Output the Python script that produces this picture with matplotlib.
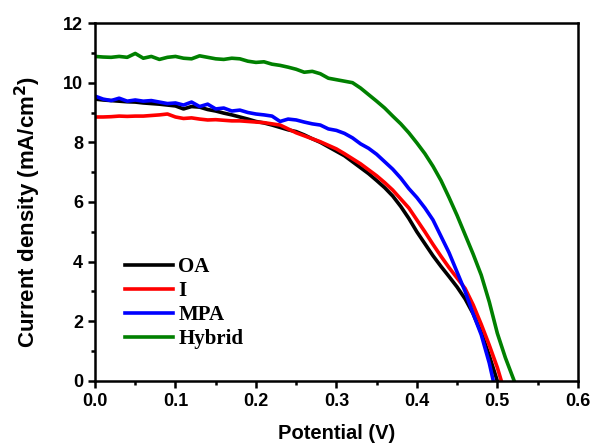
"""J-V curves for OA / I / MPA / Hybrid ligand devices."""
import numpy as np
import matplotlib
matplotlib.use("Agg")
import matplotlib.pyplot as plt
from matplotlib.ticker import MultipleLocator, FormatStrFormatter

# ---- Data ----
V_OA = [0.00, 0.01, 0.02, 0.03, 0.04, 0.05, 0.06, 0.07, 0.08, 0.09, 0.10, 0.11, 0.12, 0.13, 0.14,
        0.15, 0.16, 0.17, 0.18, 0.19, 0.20, 0.21, 0.22, 0.23, 0.24, 0.25, 0.26, 0.27, 0.28, 0.29,
        0.30, 0.31, 0.32, 0.33, 0.34, 0.35, 0.36, 0.37, 0.38, 0.39, 0.40, 0.41, 0.42, 0.43, 0.44,
        0.45, 0.46, 0.47, 0.48, 0.49, 0.50]
J_OA = [9.45, 9.42, 9.40, 9.38, 9.36, 9.35, 9.32, 9.30, 9.28, 9.25, 9.22, 9.12, 9.20, 9.18, 9.10,
        9.05, 8.98, 8.92, 8.85, 8.78, 8.70, 8.65, 8.58, 8.50, 8.42, 8.36, 8.25, 8.12, 8.00, 7.85,
        7.70, 7.55, 7.35, 7.15, 6.95, 6.72, 6.48, 6.20, 5.85, 5.45, 5.00, 4.60, 4.20, 3.84, 3.50,
        3.15, 2.75, 2.25, 1.62, 0.85, 0.00]

V_I = [0.00, 0.01, 0.02, 0.03, 0.04, 0.05, 0.06, 0.07, 0.08, 0.09, 0.10, 0.11, 0.12, 0.13, 0.14,
       0.15, 0.16, 0.17, 0.18, 0.19, 0.20, 0.21, 0.22, 0.23, 0.24, 0.25, 0.26, 0.27, 0.28, 0.29,
       0.30, 0.31, 0.32, 0.33, 0.34, 0.35, 0.36, 0.37, 0.38, 0.39, 0.40, 0.41, 0.42, 0.43, 0.44,
       0.45, 0.46, 0.47, 0.48, 0.49, 0.50, 0.505]
J_I = [8.85, 8.85, 8.86, 8.88, 8.87, 8.88, 8.88, 8.90, 8.92, 8.95, 8.85, 8.80, 8.82, 8.78, 8.75,
       8.76, 8.74, 8.72, 8.72, 8.70, 8.68, 8.66, 8.62, 8.58, 8.45, 8.32, 8.22, 8.12, 8.02, 7.90,
       7.78, 7.62, 7.45, 7.28, 7.08, 6.88, 6.65, 6.40, 6.10, 5.80, 5.40, 5.00, 4.58, 4.18, 3.80,
       3.45, 3.10, 2.55, 1.90, 1.20, 0.45, 0.00]

V_MPA = [0.00, 0.01, 0.02, 0.03, 0.04, 0.05, 0.06, 0.07, 0.08, 0.09, 0.10, 0.11, 0.12, 0.13, 0.14,
         0.15, 0.16, 0.17, 0.18, 0.19, 0.20, 0.21, 0.22, 0.23, 0.24, 0.25, 0.26, 0.27, 0.28, 0.29,
         0.30, 0.31, 0.32, 0.33, 0.34, 0.35, 0.36, 0.37, 0.38, 0.39, 0.40, 0.41, 0.42, 0.43, 0.44,
         0.45, 0.46, 0.47, 0.48, 0.49, 0.495]
J_MPA = [9.55, 9.45, 9.40, 9.48, 9.38, 9.42, 9.38, 9.40, 9.35, 9.30, 9.32, 9.25, 9.35, 9.20, 9.28,
         9.12, 9.15, 9.05, 9.08, 9.00, 8.95, 8.92, 8.88, 8.70, 8.78, 8.75, 8.68, 8.62, 8.58, 8.45,
         8.40, 8.30, 8.15, 7.95, 7.80, 7.60, 7.35, 7.10, 6.80, 6.45, 6.15, 5.80, 5.40, 4.85, 4.30,
         3.65, 3.00, 2.25, 1.55, 0.60, 0.00]

V_HYB = [0.00, 0.01, 0.02, 0.03, 0.04, 0.05, 0.06, 0.07, 0.08, 0.09, 0.10, 0.11, 0.12, 0.13, 0.14,
         0.15, 0.16, 0.17, 0.18, 0.19, 0.20, 0.21, 0.22, 0.23, 0.24, 0.25, 0.26, 0.27, 0.28, 0.29,
         0.30, 0.31, 0.32, 0.33, 0.34, 0.35, 0.36, 0.37, 0.38, 0.39, 0.40, 0.41, 0.42, 0.43, 0.44,
         0.45, 0.46, 0.47, 0.48, 0.49, 0.50, 0.51, 0.521]
J_HYB = [10.88, 10.86, 10.85, 10.88, 10.85, 10.98, 10.82, 10.88, 10.78, 10.85, 10.88, 10.82, 10.80,
         10.90, 10.85, 10.80, 10.78, 10.82, 10.80, 10.72, 10.68, 10.70, 10.62, 10.58, 10.52, 10.45,
         10.35, 10.38, 10.30, 10.15, 10.10, 10.05, 10.00, 9.82, 9.60, 9.38, 9.15, 8.88, 8.62, 8.32,
         7.98, 7.62, 7.20, 6.72, 6.15, 5.55, 4.90, 4.25, 3.55, 2.65, 1.60, 0.78, 0.00]

SERIES = [("OA", V_OA, J_OA, "black"),
          ("I", V_I, J_I, "#ff0000"),
          ("MPA", V_MPA, J_MPA, "#0000ff"),
          ("Hybrid", V_HYB, J_HYB, "#008000")]

plt.rcParams["font.family"] = ["Liberation Sans", "DejaVu Sans"]

fig = plt.figure(figsize=(5.92, 4.47), dpi=100)
ax = fig.add_axes([0.1605, 0.1477, 0.8155, 0.8008])

for name, v, j, col in SERIES:
    ax.plot(v, j, color=col, lw=2.6, label=name)

ax.set_xlim(0, 0.6)
ax.set_ylim(0, 12)
ax.xaxis.set_major_locator(MultipleLocator(0.1))
ax.xaxis.set_minor_locator(MultipleLocator(0.05))
ax.yaxis.set_major_locator(MultipleLocator(2))
ax.yaxis.set_minor_locator(MultipleLocator(1))
ax.xaxis.set_major_formatter(FormatStrFormatter("%.1f"))
ax.tick_params(which="both", direction="out", width=1.8, top=False, right=False,
               labelsize=13)
ax.tick_params(which="major", length=5)
ax.tick_params(which="minor", length=3)
for lab in ax.get_xticklabels() + ax.get_yticklabels():
    lab.set_fontweight("bold")
for s in ax.spines.values():
    s.set_linewidth(1.8)

ax.set_xlabel("Potential (V)", fontsize=14.5, fontweight="bold", labelpad=10)
ax.set_ylabel("Current density (mA/cm$^\\mathbf{2}$)", fontsize=16, fontweight="bold")
ax.yaxis.set_label_coords(-0.108, 0.472)

ax.legend(loc="upper left", bbox_to_anchor=(0.045, 0.37), frameon=False,
          prop={"family": "Liberation Serif", "weight": "bold", "size": 15},
          handlelength=2.3, handletextpad=0.25, labelspacing=0.2, borderaxespad=0)

fig.savefig("out.png", dpi=100)
